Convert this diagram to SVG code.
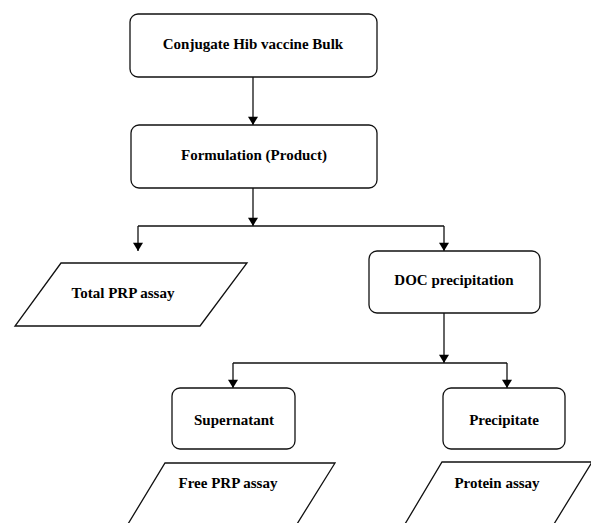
<svg xmlns="http://www.w3.org/2000/svg" width="591" height="523" viewBox="0 0 591 523">
<defs>
<marker id="ah" viewBox="0 0 10 12" refX="10" refY="6" markerWidth="12" markerHeight="10" markerUnits="userSpaceOnUse" orient="auto">
<path d="M0,0 L10,6 L0,12 Z" fill="#000"/>
</marker>
</defs>
<style>
.box{fill:#fff;stroke:#111;stroke-width:1.3}
.lbl{font-family:"Liberation Serif","Times New Roman",serif;font-weight:bold;font-size:15px;fill:#000;text-anchor:middle;dominant-baseline:central}
.c{fill:none;stroke:#111;stroke-width:1.3}
</style>
<rect width="591" height="523" fill="#fff"/>
<g id="connectors">
<line class="c" x1="253" y1="77" x2="253" y2="125" marker-end="url(#ah)"/>
<line class="c" x1="253" y1="188" x2="253" y2="226" marker-end="url(#ah)"/>
<polyline class="c" points="138,226 444,226"/>
<line class="c" x1="138" y1="226" x2="138" y2="251" marker-end="url(#ah)"/>
<line class="c" x1="444" y1="226" x2="444" y2="251" marker-end="url(#ah)"/>
<line class="c" x1="444" y1="313" x2="444" y2="363" marker-end="url(#ah)"/>
<polyline class="c" points="233,363 507,363"/>
<line class="c" x1="233" y1="363" x2="233" y2="388" marker-end="url(#ah)"/>
<line class="c" x1="507" y1="363" x2="507" y2="388" marker-end="url(#ah)"/>
</g>
<g id="bulk">
<rect class="box" x="130" y="14" width="247" height="63" rx="8"/>
<text class="lbl" x="253" y="44">Conjugate Hib vaccine Bulk</text>
</g>
<g id="formulation">
<rect class="box" x="131" y="125" width="246" height="63" rx="8"/>
<text class="lbl" x="254" y="155">Formulation (Product)</text>
</g>
<g id="total-prp">
<polygon class="box" points="61,263 247,263 200,326 15,326"/>
<text class="lbl" x="123" y="293">Total PRP assay</text>
</g>
<g id="doc">
<rect class="box" x="369" y="251" width="171" height="62" rx="8"/>
<text class="lbl" x="454" y="280">DOC precipitation</text>
</g>
<g id="supernatant">
<rect class="box" x="172" y="388" width="123" height="61" rx="8"/>
<text class="lbl" x="234" y="420">Supernatant</text>
</g>
<g id="precipitate">
<rect class="box" x="443" y="388" width="122" height="61" rx="8"/>
<text class="lbl" x="504" y="420">Precipitate</text>
</g>
<g id="free-prp">
<polygon class="box" points="165,463 335,463 297,524 128,524"/>
<text class="lbl" x="228" y="483">Free PRP assay</text>
</g>
<g id="protein">
<polygon class="box" points="442,462 592,462 554,524 405,524"/>
<text class="lbl" x="497" y="483">Protein assay</text>
</g>
</svg>
